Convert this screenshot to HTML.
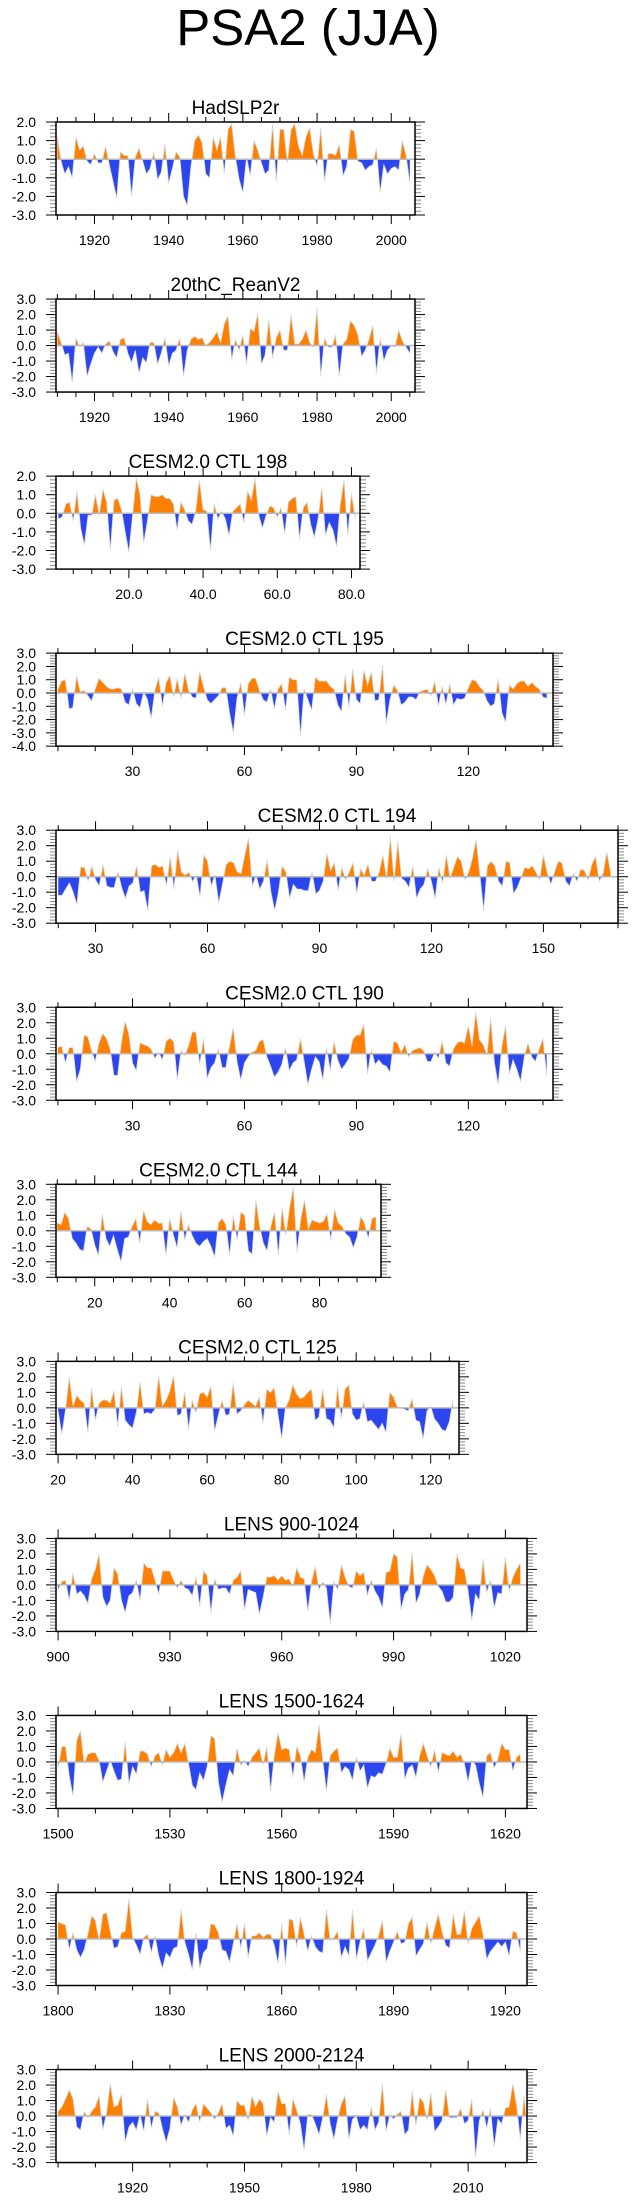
<!DOCTYPE html>
<html><head><meta charset="utf-8">
<style>
html,body{margin:0;padding:0;background:#fff;}
svg{display:block;font-family:"Liberation Sans",Arial,sans-serif;}
</style></head>
<body>
<svg id="fig" width="635" height="2203" viewBox="0 0 635 2203" xmlns="http://www.w3.org/2000/svg">
<text x="308" y="45" font-size="51" text-anchor="middle" fill="#000">PSA2 (JJA)</text>
</svg>
<script>
const titles = ["HadSLP2r","20thC_ReanV2","CESM2.0 CTL 198","CESM2.0 CTL 195","CESM2.0 CTL 194","CESM2.0 CTL 190","CESM2.0 CTL 144","CESM2.0 CTL 125","LENS 900-1024","LENS 1500-1624","LENS 1800-1924","LENS 2000-2124"];
const starts = [1910,1910,1,10,20,10,10,20,900,1500,1800,1900];
const hadslp2r = [1.2,-0.1,-0.8,-0.4,-1.0,1.2,0.5,0.7,-0.1,-0.3,0.3,-0.2,-0.2,0.7,-0.3,-1.2,-2.1,0.4,0.2,0.2,-2.0,0.1,0.6,-0.1,-0.8,-0.5,0.4,-1.1,-0.7,0.8,-1.3,-0.5,0.4,0.1,-2.0,-2.5,-0.4,1.0,1.3,0.9,-0.8,-1.0,1.2,0.5,1.2,-0.8,1.6,1.9,0.1,-1.1,-1.8,0.1,-0.9,1.0,0.5,-0.2,-0.8,-0.6,1.9,-1.2,1.6,1.6,-0.2,1.6,1.9,0.7,0.2,1.2,1.7,0.3,-0.4,1.7,-1.2,0.3,0.3,0.2,0.8,-0.9,-0.4,1.6,1.5,-0.1,-0.2,-0.6,-0.4,-0.3,0.6,-1.8,-0.3,-0.8,-0.5,-0.4,-0.6,1.0,0.2,-1.3];
const reanv2 = [0.9,0.2,-0.6,-0.5,-2.4,0.5,-0.1,0.2,-2.0,-1.2,-0.5,-0.1,-0.5,0.1,0.3,-0.4,-0.8,0.4,0.5,-0.5,-1.1,-0.3,-1.8,-0.8,-1.1,0.2,0.2,-1.2,-0.5,0.5,-1.3,-0.5,-0.3,0.5,-2.0,-0.3,0.4,0.6,0.4,0.5,0.0,0.2,0.5,0.9,0.2,1.4,1.9,-0.9,0.4,-0.3,0.7,-1.2,1.1,0.9,2.1,-1.2,-0.6,1.7,-0.8,0.5,1.0,-0.3,-0.3,2.0,0.1,0.1,0.4,1.0,0.2,-0.1,2.4,-2.0,0.5,-0.1,-0.1,0.7,-2.0,0.1,0.4,1.6,1.3,0.7,-0.7,-0.3,0.4,1.3,-1.8,0.5,-1.0,-0.3,0.0,-0.1,1.0,0.3,-0.1,-0.5];
const ctl198 = [-0.3,-0.2,0.5,0.6,-0.4,1.2,-0.8,-1.7,-0.1,-0.1,1.0,-0.1,1.3,0.6,-2.0,0.7,0.8,0.2,-1.0,-2.1,-0.1,1.9,1.0,-1.6,-0.4,1.0,0.9,0.9,1.0,0.8,0.8,0.5,-0.9,0.6,0.2,-0.4,-0.6,0.1,1.8,0.2,0.1,-2.0,0.5,-0.3,0.1,-0.3,-1.2,0.1,0.3,0.5,-0.5,1.2,0.7,1.9,-0.1,-0.8,-0.1,0.4,0.3,-0.2,0.3,-1.1,0.6,0.8,0.9,-1.4,0.3,0.6,-0.6,-1.3,-0.3,1.4,-1.2,-0.5,-0.9,-1.8,0.5,1.8,-1.2,1.1,-0.3];
const ctl195 = [0.3,0.9,1.0,-1.2,-1.1,1.3,0.1,0.2,-0.2,-0.6,0.3,1.1,0.8,0.5,0.3,0.3,0.4,0.3,-0.7,-0.9,0.3,-0.8,-1.1,0.1,-0.5,-1.9,0.2,1.2,-1.0,0.8,1.3,-0.3,1.1,-0.4,1.5,0.2,-0.3,-0.4,1.6,0.5,-0.5,-0.8,-0.5,-0.2,0.4,0.4,-1.5,-3.0,-0.4,0.8,-1.7,0.7,1.1,1.1,0.2,-0.5,-0.7,0.3,-1.2,0.3,0.7,-1.3,1.2,1.0,1.0,-3.3,0.3,-0.5,-1.3,1.2,0.9,0.9,0.9,0.5,0.3,-0.9,-1.4,1.4,-1.1,1.8,-0.5,-0.8,1.7,0.6,1.6,-0.6,-0.5,2.1,-2.3,-0.5,0.6,0.2,-0.9,-0.7,-0.3,-0.3,-0.5,0.1,0.2,0.3,-0.2,0.9,-1.0,0.5,-0.9,0.7,-0.9,-0.4,-0.5,-0.4,0.4,1.0,0.9,0.5,0.2,-0.6,-1.0,-0.8,1.1,-1.5,-2.2,0.6,0.3,0.7,0.9,0.9,0.5,0.8,0.5,0.3,-0.3,-0.4];
const ctl194 = [-1.2,-1.2,-0.8,-0.4,-1.0,-1.8,0.6,0.6,-0.3,0.7,-0.2,-0.6,0.8,-0.6,-0.7,-0.7,0.3,-0.7,-1.4,-0.6,-0.4,0.7,-1.0,-0.9,-2.2,0.7,0.8,0.6,0.7,-0.6,1.3,-0.8,1.7,0.3,0.1,0.3,-0.3,0.1,-1.3,1.4,1.0,-0.6,0.1,-1.7,-0.5,0.8,1.0,0.9,0.3,0.2,1.4,2.5,-0.6,0.1,-0.8,-0.3,1.1,-1.0,-2.2,-1.0,0.7,0.3,-1.4,-0.5,-0.8,-0.8,-0.9,-0.9,0.3,-1.1,-0.9,-0.3,1.5,0.4,0.9,-0.9,0.6,-0.2,0.3,0.9,-1.1,0.5,0.1,0.8,-0.3,-0.3,0.3,1.4,-0.1,2.6,-0.3,2.3,-0.1,-0.3,-0.7,0.7,-1.4,-0.8,-0.5,0.5,-0.3,-1.4,0.6,-0.4,1.4,-0.1,0.6,1.3,1.0,-0.2,0.3,1.2,2.4,0.1,-2.2,0.7,1.0,0.7,-0.3,-0.6,1.0,0.9,-1.1,-0.7,-0.1,0.6,0.5,0.7,0.3,-0.2,1.4,0.3,-0.5,0.3,1.0,0.9,-0.3,-0.6,0.2,-0.3,0.5,0.4,-0.2,0.8,1.3,-0.3,0.2,1.6,0.3];
const ctl190 = [0.4,0.5,-0.6,0.4,0.4,-1.8,-1.0,1.2,1.1,0.2,-0.5,0.7,1.3,1.0,0.3,-1.4,-1.4,0.7,2.1,1.3,-0.6,-1.1,0.7,0.6,0.5,0.3,-0.3,0.1,-0.4,0.8,1.0,0.8,-1.7,0.2,-0.1,0.5,1.4,1.4,-0.7,1.0,-1.6,-0.9,-0.6,0.3,-0.9,-0.9,0.5,1.7,-0.5,-1.7,-0.6,-0.2,0.1,0.2,0.8,0.9,-0.2,-0.8,-1.5,-1.2,-0.7,0.4,-1.1,-0.6,-0.4,1.0,-0.5,-2.0,-1.0,-0.2,-0.5,-1.7,0.4,-1.1,0.8,-0.4,-1.0,-0.7,-0.3,0.9,1.2,1.2,1.9,-1.3,0.3,-0.7,-0.4,-0.7,-0.8,-1.2,0.8,0.7,0.1,0.6,-0.2,0.2,0.3,0.4,0.2,-0.5,-0.5,0.1,-0.3,0.8,-0.6,-0.8,0.3,0.7,0.8,0.7,1.8,0.5,2.7,0.9,0.6,-0.1,2.3,-0.6,-2.0,0.5,1.8,-1.3,-0.4,-1.0,-1.8,-0.2,0.7,-0.2,-0.5,0.3,1.0,-1.4];
const ctl144 = [0.5,0.4,1.2,0.8,-0.5,-0.8,-1.2,-1.3,0.3,0.1,-0.9,-1.6,1.1,-0.5,-1.0,-0.3,-1.2,-2.0,-0.5,-0.4,0.3,0.8,-0.8,1.3,0.6,0.4,0.7,0.5,0.5,-1.6,0.8,-0.3,-1.1,1.3,-0.6,0.4,-0.3,-0.8,-1.0,-0.7,-0.5,-1.0,-1.7,0.5,0.8,0.4,-1.6,1.0,-0.6,1.2,1.0,-1.3,-1.5,2.0,0.3,-0.8,-1.3,0.3,1.2,-1.6,1.5,-0.3,1.5,2.8,-1.4,0.8,2.0,0.1,0.7,0.6,0.5,0.6,1.1,-0.6,1.4,0.5,0.3,-0.2,-0.4,-1.1,-0.4,0.9,0.5,-0.5,0.8,0.9];
const ctl125 = [-0.2,-1.7,-0.1,2.0,0.1,0.8,0.5,0.3,-1.6,1.3,-0.8,0.3,0.5,0.5,0.3,1.1,-1.2,1.4,-0.8,-1.1,-1.3,-0.3,1.7,-0.4,-0.3,-0.4,-0.1,2.1,0.1,0.5,1.1,2.1,-0.5,-0.4,1.0,-1.4,0.5,-0.3,0.9,1.0,0.7,1.4,-1.5,-0.5,0.5,-0.5,-0.4,1.6,-0.4,-0.2,0.2,0.5,0.3,0.1,0.7,-1.0,1.2,1.0,1.3,-0.4,-2.0,0.0,0.5,1.5,0.9,0.6,0.7,1.0,1.2,-0.8,-0.6,1.2,-0.7,-0.8,-1.3,1.4,-0.7,1.2,1.5,-0.4,-0.8,-0.7,0.4,-0.9,-0.8,-1.1,-1.4,-1.0,-1.6,1.0,0.7,0.1,0.0,-0.1,-0.2,0.6,-0.8,-0.9,-2.0,-0.2,0.1,-0.7,-1.0,-1.4,-1.5,-0.9,0.5];
const lens900 = [-0.3,0.2,0.3,-1.0,0.8,-0.6,-0.4,-0.7,-1.2,0.4,1.0,2.0,-0.8,-1.4,-1.0,1.1,0.7,-1.0,-1.8,-0.7,-0.5,0.3,-1.0,1.4,1.1,1.1,0.3,-0.6,0.9,0.9,0.9,0.3,-0.2,0.3,-0.2,-0.3,-0.7,0.5,-1.4,0.9,0.6,-1.8,0.4,-0.3,-0.2,-0.2,-0.6,0.3,0.5,0.9,-1.6,-0.3,-0.4,-0.5,-1.9,-0.8,0.5,0.5,0.6,0.3,0.6,0.3,0.4,-0.1,1.1,0.5,0.4,-1.7,0.2,1.2,-0.3,0.2,-0.2,-2.5,0.2,-0.3,1.3,0.5,-0.1,-0.2,0.9,0.6,0.8,-0.7,0.3,-0.4,-0.8,-1.5,0.8,0.9,2.0,1.8,-1.6,-0.6,-0.3,2.1,-1.2,-0.6,0.6,1.3,1.0,0.6,-0.1,-0.4,-1.1,-1.1,-0.8,2.0,1.1,1.0,-0.4,-2.3,-0.6,-1.0,1.7,-0.5,0.3,-1.5,-0.5,-0.6,1.8,-0.4,0.5,1.0,1.4];
const lens1500 = [-0.4,1.0,1.0,-0.9,-2.2,1.4,2.0,-0.1,0.5,0.6,0.6,0.1,-1.3,-0.6,0.1,-0.6,-1.2,-1.1,1.3,-1.4,-0.3,-0.8,0.7,0.7,0.5,-0.3,0.4,0.6,-0.2,0.8,0.3,0.6,1.2,0.6,1.2,-0.1,-1.5,-1.8,-0.7,-1.2,-0.3,1.7,1.5,-1.3,-2.6,-1.5,-0.5,-0.9,0.9,-0.2,0.1,-0.3,0.3,0.6,0.9,-0.2,1.0,-1.9,0.4,1.9,0.8,0.9,0.8,-1.0,1.0,0.4,-1.3,0.3,0.8,0.6,2.4,0.1,-1.9,0.4,0.7,0.9,-0.7,-0.3,-0.5,-1.2,0.3,-0.6,-0.2,-1.7,-0.9,-1.0,-0.7,-0.8,-0.1,0.9,0.3,0.3,1.8,-1.1,-0.4,-0.2,-1.0,0.4,1.2,0.4,-0.3,0.8,-0.7,0.6,0.5,0.4,0.7,0.3,0.5,-0.1,-1.3,0.1,-0.2,-1.4,-2.3,0.4,0.6,-0.4,0.2,1.2,0.8,0.8,-0.6,0.3,0.5];
const lens1800 = [1.1,1.0,0.9,-0.7,0.4,-0.7,-1.2,-0.7,0.3,1.5,1.2,-0.1,1.6,1.7,0.5,-0.6,-0.5,0.4,0.5,2.6,0.1,-0.4,-1.0,0.1,0.3,-0.9,0.2,-1.1,-1.9,-0.9,-1.2,-0.6,-0.5,1.9,-0.2,-1.0,-2.0,0.4,-1.9,-0.9,-0.6,1.0,0.9,0.4,-0.7,-0.8,-1.5,-0.3,1.0,-0.6,1.0,-1.2,0.2,0.2,0.4,0.1,0.3,0.3,-0.4,-1.6,1.0,-1.7,1.3,1.2,-0.5,1.4,0.3,-0.8,0.2,-0.5,-0.8,-0.9,1.9,-0.1,0.1,0.5,-1.2,-0.5,-1.1,1.9,-1.3,-0.2,0.7,-1.4,-0.9,-0.4,0.2,1.2,-1.5,-0.8,-0.2,0.5,-0.3,-0.2,1.0,1.4,-1.1,-0.7,-0.3,1.1,-0.3,0.7,1.6,0.5,-0.4,-0.6,1.6,0.3,0.3,1.8,-0.3,0.7,1.1,1.5,0.3,-1.3,-0.8,-0.5,-0.2,-0.5,-0.2,-1.1,0.5,0.4,-0.8];
const lens2000 = [0.3,0.6,1.1,1.7,1.1,-0.7,-0.9,0.3,-0.1,0.3,0.6,1.3,-0.9,0.2,2.1,0.6,0.7,1.4,-1.7,-0.7,-0.4,-0.9,0.1,-1.0,1.1,-0.8,0.3,0.2,-0.8,-1.7,-0.8,1.2,0.6,-0.6,0.1,-0.4,0.4,0.8,-0.4,0.8,0.5,0.2,-0.2,0.2,0.8,-0.8,-0.6,-1.3,1.0,0.7,0.7,-0.3,1.3,0.6,1.1,0.8,-1.3,-0.1,-0.4,1.6,0.8,0.8,-1.2,1.1,0.4,-0.5,-2.2,0.1,0.1,-0.5,-1.2,-0.1,1.4,-0.5,-1.5,-0.2,0.8,1.3,-1.5,-0.2,0.0,-0.9,-0.6,-0.9,0.6,-0.9,-0.4,2.1,-1.0,0.1,-0.2,0.1,0.3,-1.2,-0.9,1.6,-0.6,1.2,0.9,-0.3,1.5,-1.0,-0.7,-0.3,1.7,-0.1,-0.1,-0.1,0.5,-0.5,-0.3,1.1,-2.7,-0.3,0.4,-0.8,0.5,-2.0,-0.2,-0.5,0.5,0.6,2.1,0.7,-1.5,1.3,-1.0];
const seriesList = [hadslp2r,reanv2,ctl198,ctl195,ctl194,ctl190,ctl144,ctl125,lens900,lens1500,lens1800,lens2000];
const yMins = [-3,-3,-3,-4,-3,-3,-3,-3,-3,-3,-3,-3];
const yMaxs = [2,3,2,3,3,3,3,3,3,3,3,3];
const xTickLabels = [
 ["1920","1940","1960","1980","2000"],["1920","1940","1960","1980","2000"],
 ["20.0","40.0","60.0","80.0"],["30","60","90","120"],["30","60","90","120","150"],
 ["30","60","90","120"],["20","40","60","80"],["20","40","60","80","100","120"],
 ["900","930","960","990","1020"],["1500","1530","1560","1590","1620"],
 ["1800","1830","1860","1890","1920"],["1920","1950","1980","2010"]];
const xTickValues = [[1920,1940,1960,1980,2000],[1920,1940,1960,1980,2000],[20,40,60,80],[30,60,90,120],[30,60,90,120,150],[30,60,90,120],[20,40,60,80],[20,40,60,80,100,120],[900,930,960,990,1020],[1500,1530,1560,1590,1620],[1800,1830,1860,1890,1920],[1920,1950,1980,2010]];
const minorSteps = [5,5,5,10,10,10,5,5,10,10,10,10];
const xDomains = [[1909.63,2006.4],[1909.63,2006.4],[0.35,82.3],[9.48,142.7],[19.4,170],[9.48,142.7],[9.66,96.4],[19.44,127.6],[899.44,1025.8],[1499.44,1625.8],[1799.44,1925.8],[1899.44,2025.8]];

const NS="http://www.w3.org/2000/svg";
const svg=document.getElementById('fig');
function mk(tag,attrs,parent){const e=document.createElementNS(NS,tag);for(const k in attrs)e.setAttribute(k,attrs[k]);(parent||svg).appendChild(e);return e;}
const boxRights=[415,415,360,553,618,553,381,459,527,527,527,527];
const L=56,H=93;
for(let p=0;p<12;p++){
  const top=122+p*177.05, bot=top+H, R=boxRights[p];
  const g=mk('g',{});
  
  
  const [d0,d1]=xDomains[p], y0=yMins[p], y1=yMaxs[p];
  const xs=v=>L+(v-d0)/(d1-d0)*(R-L);
  const ys=v=>bot-(v-y0)/(y1-y0)*H;
  const t=mk('text',{x:(L+R)/2,y:top-8,'font-size':19,'text-anchor':'middle',fill:'#000'},g);
  t.textContent=titles[p];
  
  
  const cid='c'+p;
  const defs=mk('defs',{},g);
  const ca=mk('clipPath',{id:cid+'a'},defs); mk('rect',{x:L,y:top,width:R-L,height:ys(0)-top},ca);
  const cb=mk('clipPath',{id:cid+'b'},defs); mk('rect',{x:L,y:ys(0),width:R-L,height:bot-ys(0)},cb);
  const vals=seriesList[p], st=starts[p];
  let pts=vals.map((v,i)=>xs(st+i).toFixed(2)+','+ys(v).toFixed(2));
  const area='M'+xs(st).toFixed(2)+','+ys(0)+' L'+pts.join(' L')+' L'+xs(st+vals.length-1).toFixed(2)+','+ys(0)+'Z';
  const pos=mk('path',{d:area,fill:'#ff8000','clip-path':'url(#'+cid+'a)'},g);
  
  
  const neg=mk('path',{d:area,fill:'#2b46ee','clip-path':'url(#'+cid+'b)'},g);
  
  
  const ln=mk('polyline',{points:pts.join(' '),fill:'none',stroke:'#d8d8d8','stroke-width':0.8},g);
  
  
  const z=mk('line',{x1:L,x2:R,y1:ys(0),y2:ys(0),stroke:'#bbb','stroke-width':1.5},g);
  
  
  for(let k=Math.round(y0*5);k<=Math.round(y1*5);k++){
    const v=k/5, y=ys(v), major=(k%5===0);
    const len=major?10:6, col=major?'#000':'#888';
    mk('line',{x1:L-len,x2:L,y1:y,y2:y,stroke:col,'stroke-width':1},g);
    mk('line',{x1:R,x2:R+len,y1:y,y2:y,stroke:col,'stroke-width':1},g);
    if(major){
      const yl=mk('text',{x:36,y:y+5,'font-size':14,'text-anchor':'end',fill:'#000'},g);
      yl.textContent=v.toFixed(1);
      
      
    }
  }
  const ms=minorSteps[p];
  for(let v=Math.ceil(d0/ms)*ms; v<=d1; v+=ms){
    const x=xs(v); const major=xTickValues[p].includes(v);
    const len=major?9:5;
    mk('line',{x1:x,x2:x,y1:top-len,y2:top,stroke:'#000','stroke-width':1},g);
    mk('line',{x1:x,x2:x,y1:bot,y2:bot+len,stroke:'#000','stroke-width':1},g);
  }
  xTickValues[p].forEach((v,i)=>{
    const xl=mk('text',{x:xs(v),y:bot+30,'font-size':14,'text-anchor':'middle',fill:'#000'},g);
    xl.textContent=xTickLabels[p][i];
    
    
  });
  const b=mk('rect',{x:L,y:top,width:R-L,height:H,fill:'none',stroke:'#000','stroke-width':1.5},g);
  
  
}
</script>
</body></html>
